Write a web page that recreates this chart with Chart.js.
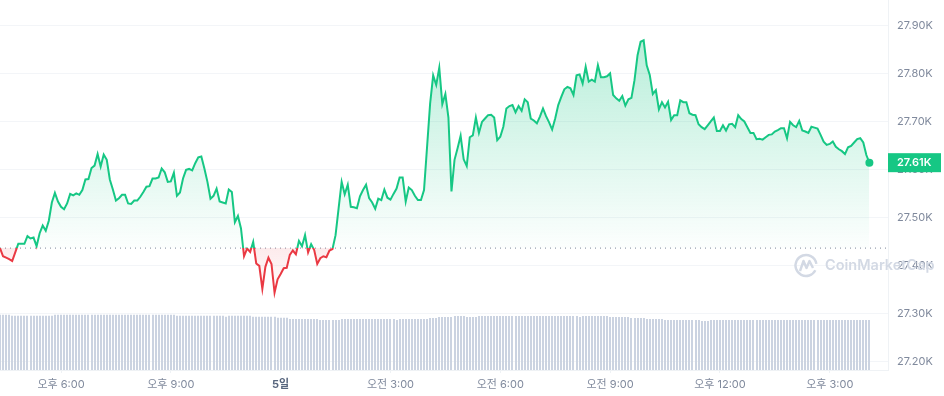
<!DOCTYPE html>
<html lang="ko">
<head>
    <meta charset="UTF-8">
    <title>Price chart</title>
    <script src="https://cdn.jsdelivr.net/npm/chart.js"></script>
    <style>
        body, html { margin: 0; padding: 0; background: #fff; overflow: hidden; }
        #wrap { width: 944px; height: 396px; }
    </style>
</head>
<body>
    <div id="wrap"><canvas id="priceChart"></canvas></div>
    <script>
        // one value every 5 minutes
        const prices = [
            27436,27419,27416,27413,27409,27427,27445,27445,27445,27461,
            27456,27458,27440,27467,27483,27472,27493,27531,27551,27533,
            27522,27517,27529,27549,27546,27550,27547,27557,27579,27580,
            27603,27608,27632,27606,27631,27620,27579,27558,27535,27540,
            27547,27547,27529,27528,27535,27535,27543,27553,27564,27565,
            27581,27581,27583,27602,27594,27574,27575,27593,27545,27552,
            27581,27599,27601,27598,27613,27625,27627,27602,27574,27539,
            27545,27560,27533,27531,27529,27558,27553,27490,27503,27477,
            27419,27435,27428,27449,27404,27399,27351,27397,27416,27403,
            27343,27371,27382,27394,27395,27422,27431,27423,27451,27440,
            27463,27427,27444,27432,27403,27415,27419,27417,27431,27434,
            27463,27519,27574,27548,27568,27522,27521,27519,27544,27557,
            27568,27540,27531,27518,27539,27536,27558,27541,27537,27549,
            27560,27583,27583,27533,27562,27557,27545,27536,27536,27557,
            27647,27737,27796,27776,27812,27736,27757,27708,27554,27620,
            27644,27670,27621,27607,27667,27671,27708,27676,27699,27706,
            27713,27714,27708,27661,27668,27689,27727,27732,27734,27719,
            27732,27722,27746,27740,27706,27702,27696,27710,27727,27711,
            27698,27683,27706,27734,27751,27767,27772,27769,27755,27796,
            27798,27779,27814,27783,27787,27783,27817,27792,27792,27794,
            27800,27755,27748,27743,27753,27733,27746,27749,27786,27838,
            27866,27869,27817,27797,27757,27765,27725,27740,27729,27741,
            27703,27713,27713,27744,27740,27740,27717,27714,27713,27694,
            27688,27684,27692,27700,27708,27680,27680,27692,27681,27694,
            27695,27688,27713,27705,27700,27688,27676,27676,27663,27664,
            27662,27667,27672,27673,27679,27682,27686,27686,27665,27699,
            27692,27688,27701,27681,27679,27676,27689,27687,27685,27672,
            27658,27651,27653,27658,27647,27642,27638,27632,27646,27649,
            27656,27663,27665,27656,27630,27614
        ];
        // volume in billions, same 5 minute steps
        const volumes = [
            14.1,14.1,14.1,14.1,
            13.85,13.85,13.85,13.85,13.85,13.85,13.85,13.85,13.85,13.85,13.85,13.85,13.85,13.85,
            14.1,14.1,14.1,14.1,14.1,14.1,14.1,14.1,14.1,14.1,14.1,14.1,14.1,14.1,14.1,14.1,14.1,14.1,14.1,14.1,
            14.1,14.1,14.1,14.1,14.1,14.1,14.1,14.1,14.1,14.1,14.1,14.1,14.1,14.1,14.1,14.1,14.1,14.1,14.1,14.1,
            13.85,13.85,13.85,13.85,13.85,13.85,13.85,13.85,13.85,13.85,13.85,13.85,13.85,13.85,13.85,13.85,
            13.6,
            13.85,13.85,13.85,13.85,13.85,13.85,13.85,13.85,
            13.6,13.6,13.6,13.6,13.6,13.6,13.6,13.6,
            13.3,13.3,13.3,13.3,
            13.0,13.0,13.0,13.0,13.0,13.0,13.0,13.0,13.0,13.0,
            12.75,12.75,12.75,12.75,12.75,12.75,12.75,
            13.0,13.0,13.0,13.0,13.0,13.0,13.0,13.0,13.0,13.0,13.0,13.0,13.0,13.0,13.0,13.0,13.0,13.0,
            12.75,
            13.0,13.0,13.0,13.0,13.0,13.0,13.0,13.0,13.0,13.0,
            13.25,13.25,13.25,
            13.5,13.5,13.5,13.5,13.5,
            13.75,13.75,13.75,13.75,
            13.5,13.5,13.5,13.5,
            13.75,13.75,13.75,13.75,13.75,13.75,13.75,13.75,13.75,13.75,13.75,13.75,13.75,13.75,13.75,13.75,13.75,
            13.75,13.75,13.75,13.75,13.75,13.75,13.75,13.75,13.75,13.75,13.75,13.75,13.75,13.75,13.75,13.75,
            13.5,
            13.75,13.75,13.75,13.75,13.75,13.75,13.75,13.75,13.75,
            13.5,13.5,13.5,13.5,13.5,13.5,13.5,
            13.25,13.25,13.25,13.25,13.25,
            13.0,13.0,13.0,13.0,13.0,13.0,
            12.75,12.75,12.75,12.75,12.75,12.75,12.75,12.75,12.75,12.75,12.75,12.75,
            12.5,12.5,12.5,
            12.75,12.75,12.75,12.75,12.75,12.75,12.75,12.75,12.75,12.75,12.75,12.75,12.75,12.75,12.75,12.75,12.75,12.75,
            12.75,12.75,12.75,12.75,12.75,12.75,12.75,12.75,12.75,12.75,12.75,12.75,12.75,12.75,12.75,12.75,12.75,12.75,
            12.75,12.75,12.75,12.75,12.75,12.75,12.75,12.75,12.75,12.75,12.75,12.75,12.75,12.75,12.75,12.75,12.75
        ];
        const xTickIndexes = [20, 56, 92, 128, 164, 200, 236, 272];
        const xTickLabels = ['오후 6:00', '오후 9:00', '5일', '오전 3:00', '오전 6:00', '오전 9:00', '오후 12:00', '오후 3:00'];
        const yTicks = [27200, 27300, 27400, 27500, 27600, 27700, 27800, 27900];
        const openPrice = 27436;

        const GREEN = '#16c784';
        const RED = '#ea3943';
        const FONT = 'Inter, "Noto Sans CJK KR", sans-serif';

        // gradients need the laid out scale, so they go in after layout
        const splitColors = {
            id: 'splitColors',
            afterLayout(chart) {
                const c = chart.ctx;
                const area = chart.chartArea;
                const y = chart.scales.y;
                const base = y.getPixelForValue(openPrice);
                const stop = (base - area.top) / area.height;

                const stroke = c.createLinearGradient(0, area.top, 0, area.bottom);
                stroke.addColorStop(0, GREEN);
                stroke.addColorStop(stop, GREEN);
                stroke.addColorStop(stop, RED);
                stroke.addColorStop(1, RED);

                const top = y.getPixelForValue(Math.max(...prices));
                const above = c.createLinearGradient(0, top, 0, base);
                above.addColorStop(0, 'rgba(22,199,132,0.30)');
                above.addColorStop(1, 'rgba(22,199,132,0.01)');

                const low = y.getPixelForValue(Math.min(...prices));
                const below = c.createLinearGradient(0, base, 0, low);
                below.addColorStop(0, 'rgba(234,57,67,0.10)');
                below.addColorStop(1, 'rgba(234,57,67,0.01)');

                const ds = chart.data.datasets[0];
                ds.borderColor = stroke;
                ds.fill = { target: { value: openPrice }, above: above, below: below };
            }
        };

        // whole pixels, otherwise the 2px bars blur into each other
        const snapBars = {
            id: 'snapBars',
            afterDatasetsUpdate(chart) {
                chart.getDatasetMeta(2).data.forEach(bar => { bar.x = Math.round(bar.x); });
            }
        };

        const watermark = {
            id: 'watermark',
            beforeDatasetsDraw(chart) {
                const c = chart.ctx;
                c.save();
                c.strokeStyle = '#d3d9e4';
                c.fillStyle = '#d3d9e4';
                c.lineWidth = 2.4;
                c.lineJoin = 'round';
                c.beginPath();
                c.arc(806, 265.5, 10.5, 0.15 * Math.PI, 1.95 * Math.PI);
                c.stroke();
                c.beginPath();
                c.moveTo(800, 271);
                c.lineTo(803.5, 261);
                c.lineTo(806.5, 268);
                c.lineTo(809.5, 261);
                c.lineTo(813, 268);
                c.stroke();
                c.font = '600 14.5px ' + FONT;
                c.textBaseline = 'middle';
                c.textAlign = 'left';
                c.fillText('CoinMarketCap', 825, 266);
                c.restore();
            }
        };

        const lastPriceTag = {
            id: 'lastPriceTag',
            afterDraw(chart) {
                const c = chart.ctx;
                const last = prices[prices.length - 1];
                const y = chart.scales.y.getPixelForValue(last);
                const left = chart.chartArea.right;
                c.save();
                c.fillStyle = GREEN;
                c.fillRect(left, y - 9.5, 53, 19);
                c.fillStyle = '#fff';
                c.font = '600 11px ' + FONT;
                c.textBaseline = 'middle';
                c.textAlign = 'left';
                c.fillText((last / 1000).toFixed(2) + 'K', left + 9, y + 0.5);
                c.restore();
            }
        };

        // the plot runs right up to the canvas edges, no label margins
        function noPadding(axis) {
            axis.paddingTop = 0;
            axis.paddingBottom = 0;
            axis.paddingLeft = 0;
            axis.paddingRight = 0;
        }

        const lastIndex = prices.length - 1;
        new Chart(document.getElementById('priceChart'), {
            data: {
                datasets: [
                    {
                        type: 'line',
                        data: prices.map((p, i) => ({ x: i, y: p })),
                        yAxisID: 'y',
                        borderColor: GREEN,
                        borderWidth: 2,
                        tension: 0,
                        pointRadius: (ctx) => ctx.dataIndex === lastIndex ? 4 : 0,
                        pointBackgroundColor: GREEN,
                        pointBorderWidth: 0,
                        order: 1
                    },
                    {
                        type: 'line',
                        data: [{ x: 0, y: openPrice }, { x: 291, y: openPrice }],
                        yAxisID: 'y',
                        borderColor: '#7d8799',
                        borderWidth: 1,
                        borderDash: [1, 4],
                        pointRadius: 0,
                        fill: false,
                        order: 2
                    },
                    {
                        type: 'bar',
                        data: volumes.map((v, i) => ({ x: i, y: v })),
                        yAxisID: 'vol',
                        backgroundColor: '#cbd3e1',
                        barThickness: 2,
                        inflateAmount: 0,
                        order: 3
                    }
                ]
            },
            options: {
                responsive: true,
                maintainAspectRatio: false,
                animation: false,
                layout: { padding: 0, autoPadding: false },
                plugins: { legend: { display: false }, tooltip: { enabled: false } },
                scales: {
                    x: {
                        type: 'linear',
                        offset: false,
                        min: 0,
                        max: 291.1,
                        afterBuildTicks: (axis) => { axis.ticks = xTickIndexes.map(v => ({ value: v })); },
                        afterFit: (axis) => { axis.height = 26; noPadding(axis); },
                        grid: { offset: false, drawOnChartArea: false, color: '#eff2f5', tickLength: 3 },
                        border: { color: '#eff2f5' },
                        ticks: {
                            autoSkip: false,
                            maxRotation: 0,
                            padding: 5,
                            callback: (v) => xTickLabels[xTickIndexes.indexOf(v)],
                            color: (ctx) => ctx.index === 2 ? '#58667e' : '#808a9d',
                            font: (ctx) => ({ family: FONT, size: 11, weight: ctx.index === 2 ? '700' : '400' })
                        }
                    },
                    y: {
                        position: 'right',
                        min: 27182,
                        max: 27953,
                        afterBuildTicks: (axis) => { axis.ticks = yTicks.map(v => ({ value: v })); },
                        afterFit: (axis) => { axis.width = 56; noPadding(axis); },
                        grid: { color: '#f3f5f8', drawTicks: false },
                        border: { color: '#eff2f5' },
                        ticks: {
                            padding: 9,
                            color: '#808a9d',
                            font: { family: FONT, size: 11 },
                            callback: (v) => (v / 1000).toFixed(2) + 'K'
                        }
                    },
                    vol: {
                        display: false,
                        min: 0,
                        max: 94.3
                    }
                }
            },
            plugins: [splitColors, snapBars, watermark, lastPriceTag]
        });
    </script>
</body>
</html>
